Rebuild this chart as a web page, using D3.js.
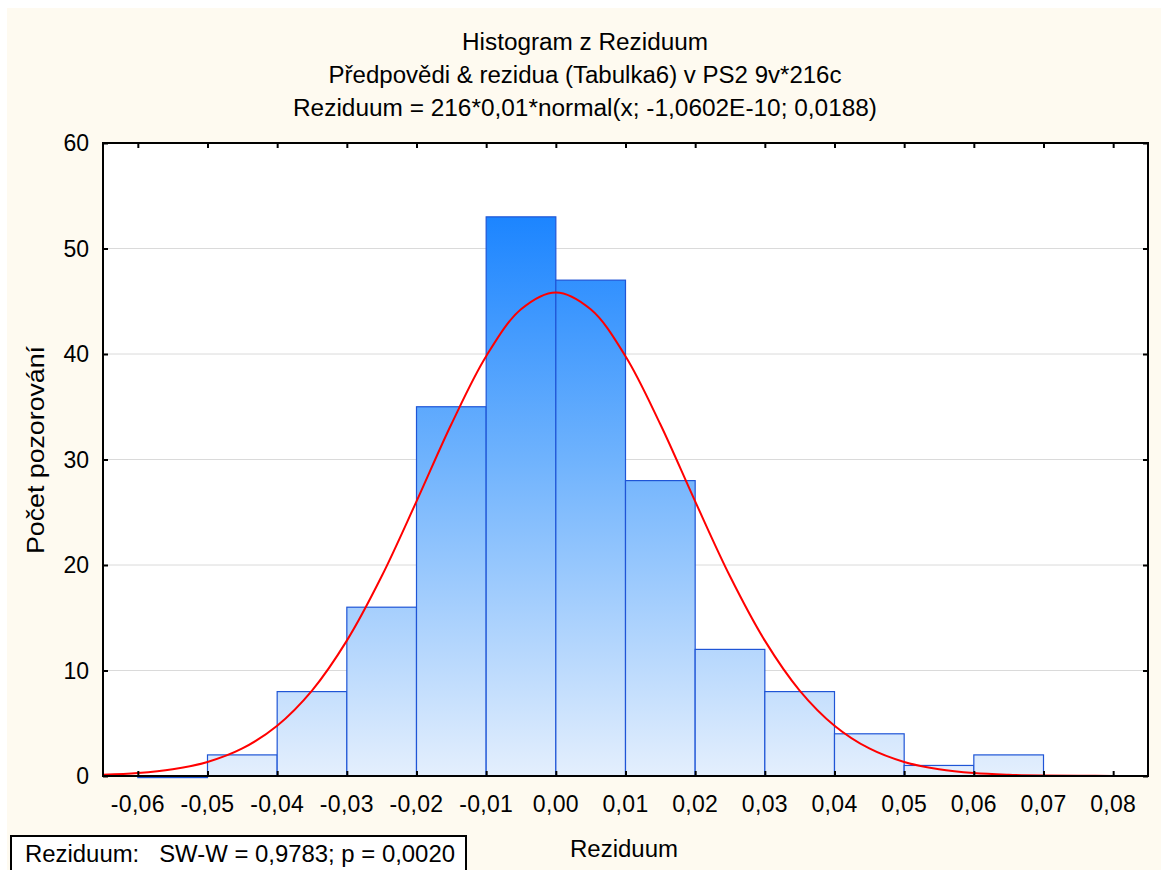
<!DOCTYPE html>
<html><head><meta charset="utf-8">
<script src="https://cdn.jsdelivr.net/npm/d3@7/dist/d3.min.js"></script>
<style>
html,body{margin:0;padding:0;background:#fff;}
svg{display:block;font-family:"Liberation Sans",Arial,sans-serif;}
</style></head><body>
<script>
// ---- data ----
const titleLines = ["Histogram z Reziduum","Předpovědi & rezidua (Tabulka6) v PS2 9v*216c","Reziduum = 216*0,01*normal(x; -1,0602E-10; 0,0188)"];
const binStarts = [-0.06,-0.05,-0.04,-0.03,-0.02,-0.01,0.00,0.01,0.02,0.03,0.04,0.05,0.06];
const binWidth = 0.01;
const counts = [0,2,8,16,35,53,47,28,12,8,4,1,2];
const xTicks = [-0.06,-0.05,-0.04,-0.03,-0.02,-0.01,0,0.01,0.02,0.03,0.04,0.05,0.06,0.07,0.08];
const yTicks = [0,10,20,30,40,50,60];
// fitted normal curve, read at 0.005 steps
const curveX = [-0.065,-0.06,-0.055,-0.05,-0.045,-0.04,-0.035,-0.03,-0.025,-0.02,-0.015,-0.01,-0.005,0,0.005,0.01,0.015,0.02,0.025,0.03,0.035,0.04,0.045,0.05,0.055,0.06,0.065,0.07,0.075,0.08,0.085];
const curveY = [0.12,0.28,0.64,1.33,2.61,4.77,8.10,12.83,18.93,26.03,33.34,39.79,44.24,45.84,44.24,39.79,33.34,26.03,18.93,12.83,8.10,4.77,2.61,1.33,0.64,0.28,0.12,0.05,0.02,0.01,0.00];
const xLabel = "Reziduum";
const yLabel = "Počet pozorování";
const statText = "Reziduum:   SW-W = 0,9783; p = 0,0020";

// ---- layout ----
const W = 1161, H = 870;
const L = 103, R = 1148, T = 143, B = 776;
const FS = 23;
const titleWidths = [246, 513, 584];
const fmt = v => (v < -1e-9 ? "-" : "") + Math.abs(v).toFixed(2).replace(".", ",");

const svg = d3.select("body").append("svg").attr("width", W).attr("height", H);
svg.append("rect").attr("x",7).attr("y",8).attr("width",W-7).attr("height",H-8).attr("fill","#fefaf0");

const x = d3.scaleLinear().domain([-0.065, 0.085]).range([L, R]);
const y = d3.scaleLinear().domain([0, 60]).range([B, T]);

const defs = svg.append("defs");
const grad = defs.append("linearGradient").attr("id","bg").attr("gradientUnits","userSpaceOnUse")
  .attr("x1",0).attr("x2",0).attr("y1",y(55)).attr("y2",y(0));
grad.append("stop").attr("offset",0).attr("stop-color","#1581ff");
grad.append("stop").attr("offset",0.45).attr("stop-color","#6eb2fd");
grad.append("stop").attr("offset",1).attr("stop-color","#e4effd");

// plot background
svg.append("rect").attr("x",L).attr("y",T).attr("width",R-L).attr("height",B-T).attr("fill","#fff");

// gridlines
svg.append("g").selectAll("line").data(yTicks.filter(d=>d>0&&d<60)).join("line")
  .attr("x1",L).attr("x2",R).attr("y1",d=>y(d)).attr("y2",d=>y(d))
  .attr("stroke","#dadada").attr("stroke-width",1);

// bars
svg.append("g").selectAll("rect").data(binStarts.map((s,i)=>({s, c:counts[i]}))).join("rect")
  .attr("x", d=>x(d.s)).attr("width", d=>x(d.s+binWidth)-x(d.s))
  .attr("y", d=>d.c>0 ? y(d.c) : y(0)+1.5).attr("height", d=>d.c>0 ? y(0)-y(d.c) : 0.1)
  .attr("fill","url(#bg)").attr("stroke","#1f55d6").attr("stroke-width",1.2);

// curve
const line = d3.line().x((d,i)=>x(curveX[i])).y(d=>y(d)).curve(d3.curveCatmullRom.alpha(0.5));
svg.append("path").attr("d", line(curveY)).attr("fill","none").attr("stroke","#ff0000").attr("stroke-width",2);

// axes with inward ticks
const styleTicks = g=>{g.select(".domain").remove(); g.selectAll("line").attr("stroke","#000").attr("stroke-width",2);};
svg.append("g").attr("transform",`translate(0,${B})`)
  .call(d3.axisBottom(x).tickValues(xTicks).tickSize(-5).tickFormat("")).call(styleTicks);
svg.append("g").attr("transform",`translate(0,${T})`)
  .call(d3.axisTop(x).tickValues(xTicks).tickSize(-5).tickFormat("")).call(styleTicks);
svg.append("g").attr("transform",`translate(${L},0)`)
  .call(d3.axisLeft(y).tickValues(yTicks).tickSize(-5).tickFormat("")).call(styleTicks);
svg.append("g").attr("transform",`translate(${R},0)`)
  .call(d3.axisRight(y).tickValues(yTicks).tickSize(-5).tickFormat("")).call(styleTicks);

// frame
svg.append("rect").attr("x",L).attr("y",T).attr("width",R-L).attr("height",B-T)
  .attr("fill","none").attr("stroke","#000").attr("stroke-width",2);

// tick labels
svg.append("g").selectAll("text").data(xTicks).join("text")
  .attr("x", d=>x(d)).attr("y", 812).attr("text-anchor","middle")
  .attr("font-size",FS).attr("letter-spacing",0.3).attr("fill","#000").text(fmt);
svg.append("g").selectAll("text").data(yTicks).join("text")
  .attr("x", 89).attr("y", d=>y(d)+8).attr("text-anchor","end")
  .attr("font-size",FS).attr("fill","#000").text(d=>d);

// titles
svg.append("g").selectAll("text").data(titleLines).join("text")
  .attr("x", 585).attr("y",(d,i)=>50+i*33).attr("text-anchor","middle")
  .attr("font-size",FS).attr("fill","#000")
  .attr("textLength",(d,i)=>titleWidths[i]).attr("lengthAdjust","spacingAndGlyphs").text(d=>d);

// axis labels
svg.append("text").attr("x",624).attr("y",857).attr("text-anchor","middle")
  .attr("font-size",FS).attr("fill","#000")
  .attr("textLength",108).attr("lengthAdjust","spacingAndGlyphs").text(xLabel);
svg.append("text").attr("transform",`translate(44,450) rotate(-90)`).attr("text-anchor","middle")
  .attr("font-size",FS).attr("fill","#000")
  .attr("textLength",208).attr("lengthAdjust","spacingAndGlyphs").text(yLabel);

// stat box
svg.append("rect").attr("x",11).attr("y",836).attr("width",455).attr("height",40)
  .attr("fill","#fff").attr("stroke","#000").attr("stroke-width",2);
svg.append("text").attr("x",25).attr("y",862).attr("font-size",FS).attr("fill","#000")
  .attr("xml:space","preserve").style("white-space","pre")
  .attr("textLength",430).attr("lengthAdjust","spacingAndGlyphs").text(statText);
</script>
</body></html>
